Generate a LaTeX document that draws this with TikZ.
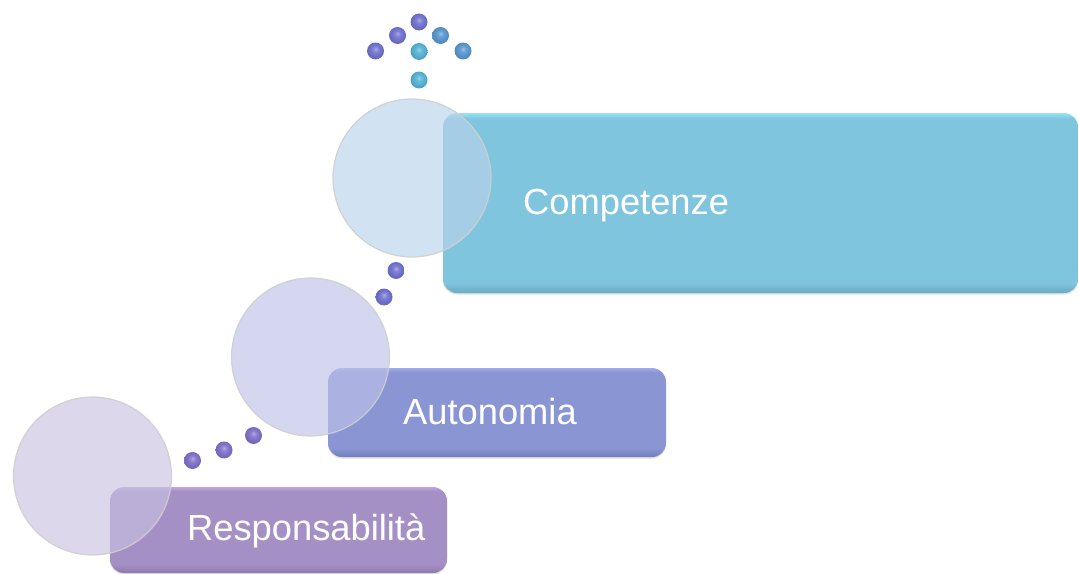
\documentclass[tikz,border=0pt]{standalone}
\usepackage{fontspec}
\setmainfont{Liberation Sans}
\usetikzlibrary{shadows}

\definecolor{Cbase}{RGB}{128,197,222}
\definecolor{Clt}{RGB}{150,225,250}
\definecolor{Cdk}{RGB}{108,170,195}
\definecolor{Abase}{RGB}{138,150,212}
\definecolor{Alt}{RGB}{160,172,232}
\definecolor{Adk}{RGB}{115,126,185}
\definecolor{Rbase}{RGB}{165,144,198}
\definecolor{Rlt}{RGB}{188,168,222}
\definecolor{Rdk}{RGB}{140,122,172}
\definecolor{circC}{RGB}{185,212,235}
\definecolor{circA}{RGB}{190,192,232}
\definecolor{circR}{RGB}{201,193,225}
\definecolor{dotP}{RGB}{128,112,200}
\definecolor{dotB}{RGB}{112,114,205}
\definecolor{dotT}{RGB}{88,150,205}
\definecolor{dotCy}{RGB}{85,178,212}

\pgfdeclareverticalshading{shC}{100bp}{color(0bp)=(Cdk); color(25bp)=(Cdk); color(28bp)=(Cbase); color(73.5bp)=(Cbase); color(75bp)=(Clt); color(100bp)=(Clt)}
\pgfdeclareverticalshading{shA}{100bp}{color(0bp)=(Adk); color(25bp)=(Adk); color(30bp)=(Abase); color(72.5bp)=(Abase); color(75bp)=(Alt); color(100bp)=(Alt)}
\pgfdeclareverticalshading{shR}{100bp}{color(0bp)=(Rdk); color(25bp)=(Rdk); color(30bp)=(Rbase); color(72.5bp)=(Rbase); color(75bp)=(Rlt); color(100bp)=(Rlt)}

\newcommand{\mkdotshading}[2]{%
  \pgfdeclareradialshading{#1}{\pgfpoint{0bp}{6bp}}{%
    color(0bp)=(white!40!#2); color(9bp)=(white!10!#2); color(16bp)=(#2);
    color(25bp)=(#2!90!black); color(31bp)=(#2!45!white); color(50bp)=(white)}}
\mkdotshading{dshP}{dotP}
\mkdotshading{dshB}{dotB}
\mkdotshading{dshT}{dotT}
\mkdotshading{dshCy}{dotCy}

\tikzset{
  stepbox/.style={rectangle, rounded corners=14pt, inner sep=0pt,
    drop shadow={shadow xshift=0pt, shadow yshift=-1.5pt, opacity=0.25, fill=gray}},
  bigcirc/.style={circle, minimum size=158pt, inner sep=0pt, fill opacity=0.65,
    draw=white!62!gray, line width=1.2pt, draw opacity=0.9},
  dot/.style={circle, minimum size=17pt, inner sep=0pt},
  lbl/.style={anchor=base west, inner sep=0pt, text=white,
    font=\fontsize{36.3}{40}\selectfont}
}

\begin{document}
\begin{tikzpicture}[x=1pt,y=-1pt]
\useasboundingbox (0,0) rectangle (1079,573);

% boxes
\node[stepbox, shading=shC, minimum width=635pt, minimum height=180pt] (bC) at (760.5,203) {};
\node[stepbox, shading=shA, minimum width=338pt, minimum height=89pt] (bA) at (497,412.5) {};
\node[stepbox, shading=shR, minimum width=337pt, minimum height=86pt] (bR) at (278.5,530) {};

% circles
\node[bigcirc, fill=circC] (cC) at (412,178) {};
\node[bigcirc, fill=circA] (cA) at (310.5,357) {};
\node[bigcirc, fill=circR] (cR) at (92.5,476) {};

% dots bottom -> middle
\node[dot, shading=dshP] (p1) at (192.5,460.5) {};
\node[dot, shading=dshP] (p2) at (224,450) {};
\node[dot, shading=dshP] (p3) at (253.5,435.5) {};
% dots middle -> top
\node[dot, shading=dshB] (q1) at (384,297) {};
\node[dot, shading=dshB] (q2) at (396,270.5) {};
% arrow at the top
\node[dot, shading=dshB] (a1) at (375.5,51) {};
\node[dot, shading=dshB] (a2) at (397.5,35.5) {};
\node[dot, shading=dshB] (a3) at (419,22) {};
\node[dot, shading=dshT] (a4) at (440.5,35.5) {};
\node[dot, shading=dshT] (a5) at (463,51) {};
\node[dot, shading=dshCy] (a6) at (419,51.5) {};
\node[dot, shading=dshCy] (a7) at (419,80) {};

% labels
\node[lbl] (tC) at (523,214) {Competenze};
\node[lbl] (tA) at (403,424) {Autonomia};
\node[lbl] (tR) at (187,540) {Responsabilità};
\end{tikzpicture}
\end{document}
